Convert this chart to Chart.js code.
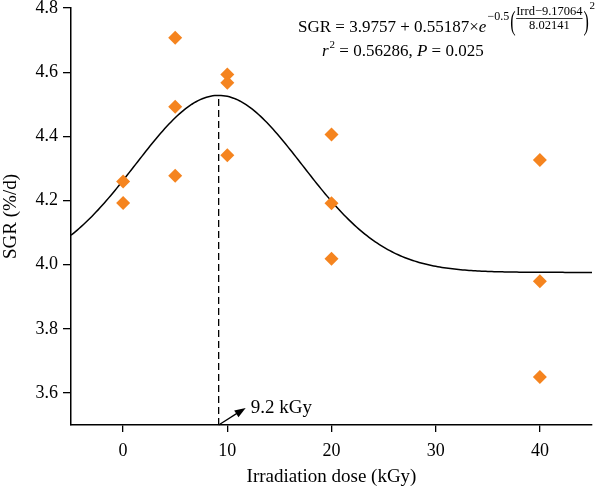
<!DOCTYPE html>
<html>
<head>
<meta charset="utf-8">
<script src="https://cdn.jsdelivr.net/npm/chart.js@4.4.0/dist/chart.umd.min.js"></script>
<style>
  html, body { margin: 0; padding: 0; background: #fff; overflow: hidden; }
  #wrap { width: 600px; height: 488px; position: relative; }
</style>
</head>
<body>
<div id="wrap"><canvas id="chart"></canvas></div>
<script>
// measured points (dose in kGy, SGR in %/d)
const doses = [0, 0, 5, 5, 5, 10, 10, 10, 20, 20, 20, 40, 40, 40];
const sgr = [4.259, 4.192, 4.707, 4.492, 4.277, 4.593, 4.567, 4.341, 4.406, 4.191, 4.018, 4.326, 3.948, 3.650];
const xTicks = [0, 10, 20, 30, 40];
const yTicks = [3.6, 3.8, 4.0, 4.2, 4.4, 4.6, 4.8];

// gaussian fit coefficients printed on the chart
const fitA = 3.9757, fitB = 0.55187, fitMu = 9.17064, fitSigma = 8.02141;
const fitFrom = -5, fitTo = 45;
const peakLabel = '9.2 kGy';

const serif = '"Liberation Serif", "DejaVu Serif", serif';
const orange = '#f5841f';

function fit(x) {
  return fitA + fitB * Math.exp(-0.5 * Math.pow((x - fitMu) / fitSigma, 2));
}

const curve = [];
for (let x = fitFrom; x <= fitTo + 1e-9; x += 0.2) {
  curve.push({ x: x, y: fit(x) });
}

const points = doses.map((d, i) => ({ x: d, y: sgr[i] }));

const notes = {
  id: 'notes',
  afterDraw(chart) {
    const ctx = chart.ctx;
    const xs = chart.scales.x, ys = chart.scales.y;
    ctx.save();
    ctx.fillStyle = '#000';
    ctx.strokeStyle = '#000';

    // arrow to peak label
    const x0 = xs.getPixelForValue(fitMu), y0 = ys.getPixelForValue(3.5);
    const x1 = x0 + 27, y1 = y0 - 17;
    ctx.lineWidth = 1.3;
    ctx.beginPath();
    ctx.moveTo(x0, y0);
    ctx.lineTo(x1 - 6, y1 + 3.6);
    ctx.stroke();
    const ang = Math.atan2(y1 - y0, x1 - x0);
    ctx.beginPath();
    ctx.moveTo(x1, y1);
    ctx.lineTo(x1 - 11 * Math.cos(ang) + 4 * Math.sin(ang), y1 - 11 * Math.sin(ang) - 4 * Math.cos(ang));
    ctx.lineTo(x1 - 11 * Math.cos(ang) - 4 * Math.sin(ang), y1 - 11 * Math.sin(ang) + 4 * Math.cos(ang));
    ctx.closePath();
    ctx.fill();
    ctx.font = '19px ' + serif;
    ctx.textBaseline = 'alphabetic';
    ctx.fillText(peakLabel, x1 + 5, y1 + 4.5);

    // equation line 1
    let x = 298;
    const base = 32;
    ctx.font = '17px ' + serif;
    const t1 = 'SGR = ' + fitA + ' + ' + fitB + '\u00d7';
    ctx.fillText(t1, x, base);
    x += ctx.measureText(t1).width;
    ctx.font = 'italic 17px ' + serif;
    ctx.fillText('e', x, base);
    x += ctx.measureText('e').width + 1;
    ctx.font = '12px ' + serif;
    ctx.fillText('\u22120.5', x, 20);
    x += ctx.measureText('\u22120.5').width + 1;
    // big parentheses
    ctx.save();
    ctx.font = '16px ' + serif;
    ctx.translate(x, 30);
    ctx.scale(1, 1.7);
    ctx.fillText('(', 0, 0);
    ctx.restore();
    x += 6;
    ctx.font = '12.5px ' + serif;
    const num = 'Irrd\u2212' + fitMu;
    const den = String(fitSigma);
    const wn = ctx.measureText(num).width, wd = ctx.measureText(den).width;
    const w = Math.max(wn, wd);
    ctx.fillText(num, x + (w - wn) / 2, 15);
    ctx.fillText(den, x + (w - wd) / 2, 29);
    ctx.lineWidth = 0.8;
    ctx.beginPath();
    ctx.moveTo(x, 18.5);
    ctx.lineTo(x + w, 18.5);
    ctx.stroke();
    x += w + 1;
    ctx.save();
    ctx.font = '16px ' + serif;
    ctx.translate(x, 30);
    ctx.scale(1, 1.7);
    ctx.fillText(')', 0, 0);
    ctx.restore();
    x += 6;
    ctx.font = '11px ' + serif;
    ctx.fillText('2', x, 9);

    // equation line 2
    x = 322;
    const base2 = 55.5;
    ctx.font = 'italic 17px ' + serif;
    ctx.fillText('r', x, base2);
    x += ctx.measureText('r').width + 1;
    ctx.font = '11px ' + serif;
    ctx.fillText('2', x, base2 - 8);
    x += ctx.measureText('2').width;
    ctx.font = '17px ' + serif;
    ctx.fillText(' = 0.56286, ', x, base2);
    x += ctx.measureText(' = 0.56286, ').width;
    ctx.font = 'italic 17px ' + serif;
    ctx.fillText('P', x, base2);
    x += ctx.measureText('P').width;
    ctx.font = '17px ' + serif;
    ctx.fillText(' = 0.025', x, base2);
    ctx.restore();
  }
};

new Chart(document.getElementById('chart'), {
  type: 'scatter',
  data: {
    datasets: [
      {
        label: 'SGR',
        data: points,
        pointStyle: 'rectRot',
        pointRadius: 7,
        pointHoverRadius: 7,
        backgroundColor: orange,
        borderColor: orange,
        borderWidth: 0,
        order: 1
      },
      {
        label: 'fit',
        data: curve,
        showLine: true,
        pointRadius: 0,
        borderColor: '#000',
        borderWidth: 1.5,
        fill: false,
        order: 2
      },
      {
        label: 'peak',
        data: [{ x: fitMu, y: 3.5 }, { x: fitMu, y: fit(fitMu) }],
        showLine: true,
        pointRadius: 0,
        borderColor: '#000',
        borderWidth: 1.3,
        borderDash: [7, 4],
        order: 3
      }
    ]
  },
  plugins: [notes],
  options: {
    responsive: true,
    maintainAspectRatio: false,
    animation: false,
    layout: { autoPadding: false, padding: { top: 8, right: 8, left: 0, bottom: 0 } },
    plugins: {
      legend: { display: false },
      tooltip: { enabled: false }
    },
    scales: {
      x: {
        type: 'linear',
        min: -5,
        max: 45,
        afterBuildTicks: s => { s.ticks = xTicks.map(v => ({ value: v })); },
        afterFit: s => { s.height = 63; s.paddingLeft = 0; s.paddingRight = 0; },
        grid: { drawOnChartArea: false, drawTicks: true, tickLength: 7, color: '#000', lineWidth: 1.3 },
        border: { display: true, color: '#000', width: 1.5 },
        ticks: { color: '#000', padding: 8, font: { family: serif, size: 18 } },
        title: { display: true, text: 'Irradiation dose (kGy)', color: '#000', padding: { top: 0, bottom: 0 }, font: { family: serif, size: 19 } }
      },
      y: {
        type: 'linear',
        min: 3.5,
        max: 4.8,
        afterBuildTicks: s => { s.ticks = yTicks.map(v => ({ value: v })); },
        afterFit: s => { s.width = 71; s.paddingTop = 0; s.paddingBottom = 0; },
        grid: { drawOnChartArea: false, drawTicks: true, tickLength: 8, color: '#000', lineWidth: 1.3 },
        border: { display: true, color: '#000', width: 1.5 },
        ticks: { color: '#000', padding: 5, font: { family: serif, size: 18 }, callback: v => v.toFixed(1) },
        title: { display: true, text: 'SGR (%/d)', color: '#000', padding: { top: 0, bottom: 0 }, font: { family: serif, size: 19 } }
      }
    }
  }
});
</script>
</body>
</html>
